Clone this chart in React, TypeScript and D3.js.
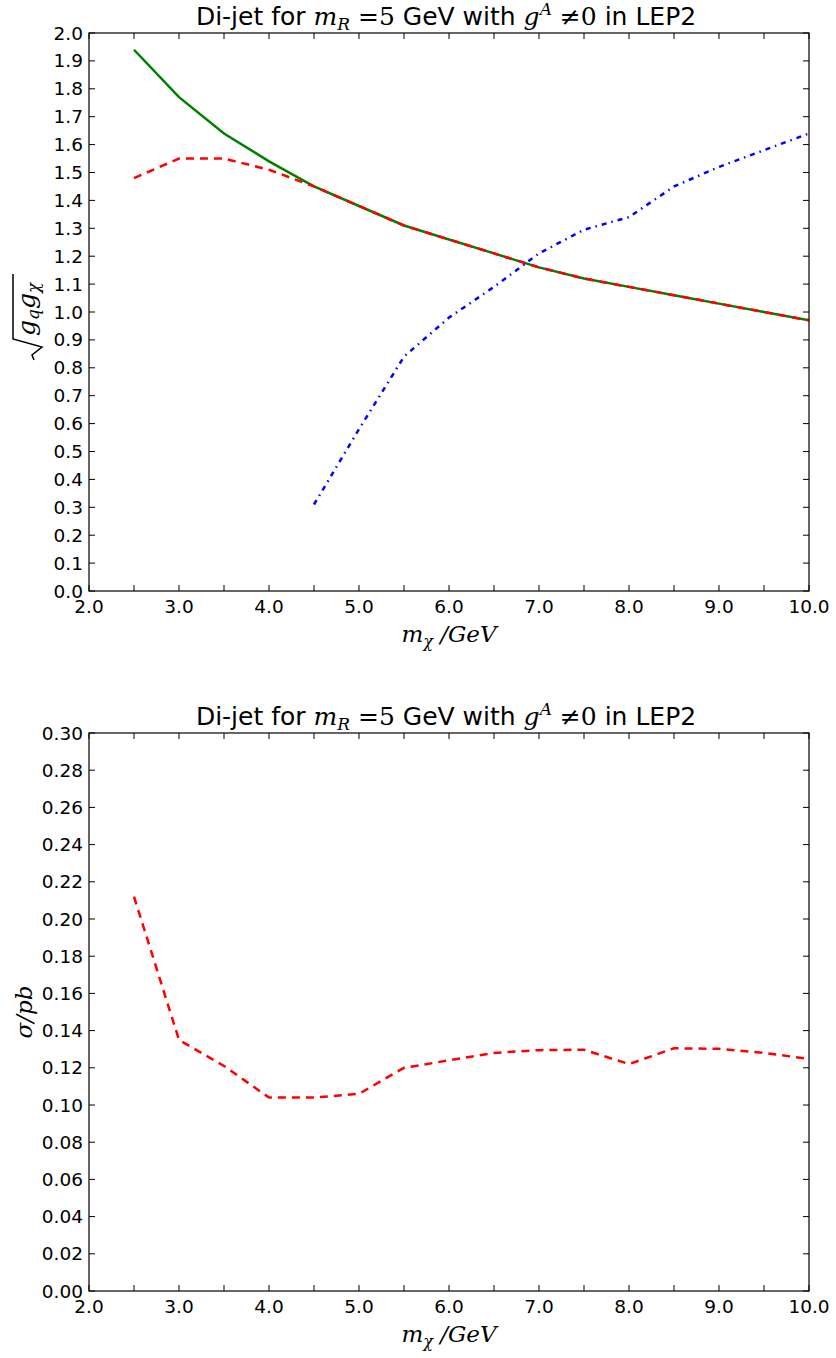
import React from "react";
import * as d3 from "d3";

const mChi = [2.5, 3.0, 3.5, 4.0, 4.5, 5.0, 5.5, 6.0, 6.5, 7.0, 7.5, 8.0, 8.5, 9.0, 9.5, 10.0];
const greenCoupling = [1.94, 1.77, 1.64, 1.54, 1.45, 1.38, 1.31, 1.26, 1.21, 1.16, 1.12, 1.09, 1.06, 1.03, 1.0, 0.97];
const redCoupling = [1.48, 1.55, 1.55, 1.51, 1.45, 1.38, 1.31, 1.26, 1.21, 1.16, 1.12, 1.09, 1.06, 1.03, 1.0, 0.97];
const blueX = [4.5, 5.0, 5.5, 6.0, 6.5, 7.0, 7.5, 8.0, 8.5, 9.0, 9.5, 10.0];
const blueCoupling = [0.31, 0.58, 0.84, 0.98, 1.09, 1.21, 1.295, 1.34, 1.45, 1.52, 1.58, 1.64];
const sigma = [0.212, 0.135, 0.121, 0.104, 0.104, 0.106, 0.12, 0.124, 0.128, 0.1295, 0.1297, 0.122, 0.1305, 0.1302, 0.128, 0.1248];

const xTicks = d3.range(2, 10.01, 0.5);
const xLabels = [2, 3, 4, 5, 6, 7, 8, 9, 10];
const yTicksTop = d3.range(0, 2.001, 0.1);
const yTicksBot = d3.range(0, 0.3001, 0.02);

const L = 89, R = 809;
const TICK = 6;
const tickFont = "DejaVu Sans, sans-serif";
const mathFont = "DejaVu Serif, serif";

function Title({ y }: { y: number }) {
  return (
    <text x={446} y={y} textAnchor="middle" fontFamily={tickFont} fontSize={25}>
      <tspan>Di-jet for </tspan>
      <tspan fontFamily={mathFont} fontStyle="italic">m</tspan>
      <tspan fontFamily={mathFont} fontStyle="italic" fontSize={17} dy={5}>R</tspan>
      <tspan fontFamily={mathFont} dy={-5}>{" =5"}</tspan>
      <tspan> GeV with </tspan>
      <tspan fontFamily={mathFont} fontStyle="italic">g</tspan>
      <tspan fontFamily={mathFont} fontStyle="italic" fontSize={17} dy={-10}>A</tspan>
      <tspan fontFamily={mathFont} dy={10}>{"  \u22600"}</tspan>
      <tspan> in LEP2</tspan>
    </text>
  );
}

function XLabel({ y }: { y: number }) {
  return (
    <text x={(L + R) / 2} y={y} textAnchor="middle" fontFamily={mathFont} fontSize={23} fontStyle="italic">
      <tspan>m</tspan>
      <tspan fontSize={16} dy={5}>{"\u03c7"}</tspan>
      <tspan dy={-5}>{" /GeV"}</tspan>
    </text>
  );
}

function Panel({
  top, bottom, yMax, yTicks, fmt, children, ylabel,
}: {
  top: number; bottom: number; yMax: number; yTicks: number[]; fmt: (v: number) => string;
  children: (x: d3.ScaleLinear<number, number>, y: d3.ScaleLinear<number, number>) => React.ReactNode;
  ylabel: React.ReactNode;
}) {
  const x = d3.scaleLinear().domain([2, 10]).range([L, R]);
  const y = d3.scaleLinear().domain([0, yMax]).range([bottom, top]);
  return (
    <g>
      <Title y={top - 8} />
      <defs>
        <clipPath id={`clip${top}`}>
          <rect x={L} y={top} width={R - L} height={bottom - top} />
        </clipPath>
      </defs>
      <g clipPath={`url(#clip${top})`}>{children(x, y)}</g>
      <rect x={L} y={top} width={R - L} height={bottom - top} fill="none" stroke="#000" strokeWidth={1.2} />
      {xTicks.map((t) => (
        <g key={`xt${t}`}>
          <line x1={x(t)} x2={x(t)} y1={bottom} y2={bottom - TICK} stroke="#000" />
          <line x1={x(t)} x2={x(t)} y1={top} y2={top + TICK} stroke="#000" />
        </g>
      ))}
      {xLabels.map((t) => (
        <text key={`xl${t}`} x={x(t)} y={bottom + 22} textAnchor="middle" fontFamily={tickFont} fontSize={18.5}>
          {t.toFixed(1)}
        </text>
      ))}
      {yTicks.map((t) => (
        <g key={`yt${t}`}>
          <line x1={L} x2={L + TICK} y1={y(t)} y2={y(t)} stroke="#000" />
          <line x1={R} x2={R - TICK} y1={y(t)} y2={y(t)} stroke="#000" />
          <text x={L - 6} y={y(t) + 6.5} textAnchor="end" fontFamily={tickFont} fontSize={18.5}>
            {fmt(t)}
          </text>
        </g>
      ))}
      <XLabel y={bottom + 51} />
      {ylabel}
    </g>
  );
}

export default function App() {
  return (
    <svg width={836} height={1358} style={{ position: "absolute", left: 0, top: 0, background: "#fff" }}>
      <rect width={836} height={1358} fill="#fff" />
      <Panel
        top={33}
        bottom={591}
        yMax={2.0}
        yTicks={yTicksTop}
        fmt={(v) => v.toFixed(1)}
        ylabel={
          <g transform="translate(0,312) rotate(-90)">
            <path d="M -48 34 L -43 32 L -35 42 L -27 13 L 38 13" fill="none" stroke="#000" strokeWidth={1.5} />
            <text x={-24} y={35} fontFamily={mathFont} fontStyle="italic" fontSize={25}>
              <tspan>g</tspan>
              <tspan fontSize={17} dy={4}>q</tspan>
              <tspan dy={-4}>g</tspan>
              <tspan fontSize={17} dy={4}>{"\u03c7"}</tspan>
            </text>
          </g>
        }
      >
        {(x, y) => {
          const line = d3.line<[number, number]>().x((d) => x(d[0])).y((d) => y(d[1]));
          return (
            <>
              <path d={line(mChi.map((m, i) => [m, greenCoupling[i]]) as any) || ""} fill="none" stroke="#008000" strokeWidth={2.5} />
              <path d={line(mChi.map((m, i) => [m, redCoupling[i]]) as any) || ""} fill="none" stroke="#ff0000" strokeWidth={2.5} strokeDasharray="8,6" />
              <path d={line(blueX.map((m, i) => [m, blueCoupling[i]]) as any) || ""} fill="none" stroke="#0000ff" strokeWidth={2.5} strokeDasharray="5,5,1.5,5" />
            </>
          );
        }}
      </Panel>
      <Panel
        top={733}
        bottom={1291}
        yMax={0.3}
        yTicks={yTicksBot}
        fmt={(v) => v.toFixed(2)}
        ylabel={
          <text transform="translate(32,1012) rotate(-90)" textAnchor="middle" fontFamily={mathFont} fontStyle="italic" fontSize={23}>
            {"\u03c3/pb"}
          </text>
        }
      >
        {(x, y) => {
          const line = d3.line<[number, number]>().x((d) => x(d[0])).y((d) => y(d[1]));
          return (
            <path d={line(mChi.map((m, i) => [m, sigma[i]]) as any) || ""} fill="none" stroke="#ff0000" strokeWidth={2.5} strokeDasharray="8,6" />
          );
        }}
      </Panel>
    </svg>
  );
}
